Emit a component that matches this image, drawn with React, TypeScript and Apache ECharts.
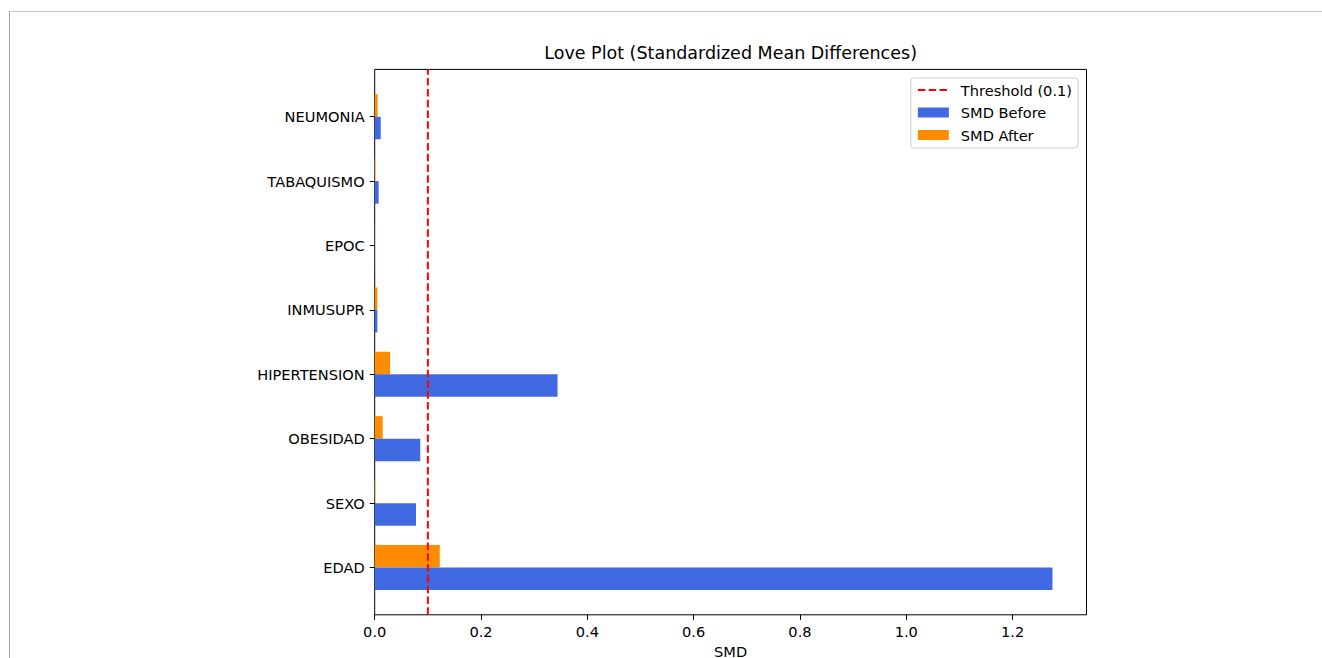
import React, { useEffect, useRef } from "react";
import * as echarts from "echarts";

const categories = ["EDAD", "SEXO", "OBESIDAD", "HIPERTENSION", "INMUSUPR", "EPOC", "TABAQUISMO", "NEUMONIA"];
const smdBefore = [1.275, 0.0777, 0.0857, 0.344, 0.005, 0.0004, 0.0075, 0.0113];
const smdAfter = [0.1224, 0.0008, 0.015, 0.029, 0.005, 0.0004, 0.0008, 0.0055];
const threshold = 0.1;
const xMax = 1.339;
const xTicks = [0, 0.2, 0.4, 0.6, 0.8, 1.0, 1.2];

const FONT = "DejaVu Sans";
const FS = 14.6;

export default function App() {
  const ref = useRef<HTMLDivElement>(null);
  useEffect(() => {
    document.body.style.margin = "0";
    document.body.style.overflow = "hidden";
    const chart = echarts.init(ref.current!, null, { renderer: "svg" });
    const plotLeft = 374.7;
    const plotWidth = 711.8;
    const band = 64.4;
    const frameTop = 69.4;
    const frameH = 545.4;
    const innerTop = frameTop + 0.235 * band;
    chart.setOption({
      animation: false,
      backgroundColor: "#ffffff",
      textStyle: { fontFamily: FONT },
      title: {
        text: "Love Plot (Standardized Mean Differences)",
        left: plotLeft + plotWidth / 2,
        textAlign: "center",
        top: 44,
        padding: 0,
        textStyle: { fontFamily: FONT, fontSize: 17.5, fontWeight: "normal", color: "#000" },
      },
      legend: {
        orient: "vertical",
        right: 1322 - 1078,
        top: 78,
        padding: [4, 6, 5, 6],
        itemGap: 6.5,
        itemWidth: 31,
        itemHeight: 10,
        borderColor: "#cccccc",
        borderWidth: 1,
        borderRadius: 3,
        backgroundColor: "rgba(255,255,255,0.8)",
        textStyle: { fontFamily: FONT, fontSize: FS, color: "#000", lineHeight: 16, padding: [0, 0, 0, 7] },
        data: [
          { name: "Threshold (0.1)", itemStyle: { opacity: 0 } },
          { name: "SMD Before", icon: "rect" },
          { name: "SMD After", icon: "rect" },
        ],
      },
      grid: [
        {
          left: plotLeft,
          width: plotWidth,
          top: innerTop,
          height: band * 8,
          containLabel: false,
          outerBoundsMode: "none",
        },
        {
          left: plotLeft,
          width: plotWidth,
          top: frameTop,
          height: frameH,
          show: true,
          borderColor: "#000",
          borderWidth: 1,
          backgroundColor: "transparent",
          containLabel: false,
          outerBoundsMode: "none",
        },
      ],
      xAxis: [
        { type: "value", gridIndex: 0, min: 0, max: xMax, show: false },
        {
          type: "value",
          gridIndex: 1,
          min: 0,
          max: xMax,
          interval: 0.2,
          position: "bottom",
          axisLine: { show: false },
          axisTick: { show: true, length: 5, lineStyle: { color: "#000", width: 1 } },
          splitLine: { show: false },
          axisLabel: {
            margin: 9,
            fontFamily: FONT,
            fontSize: FS,
            color: "#000",
            showMaxLabel: false,
            formatter: (v: number) => (xTicks.some((t) => Math.abs(t - v) < 1e-6) ? v.toFixed(1) : ""),
          },
          name: "SMD",
          nameLocation: "middle",
          nameGap: 29,
          nameTextStyle: { fontFamily: FONT, fontSize: FS, color: "#000" },
        },
      ],
      yAxis: [
        {
          type: "category",
          gridIndex: 0,
          data: categories,
          axisLine: { show: false },
          axisTick: { show: true, alignWithLabel: true, length: 5, lineStyle: { color: "#000", width: 1 } },
          axisLabel: { margin: 10, fontFamily: FONT, fontSize: FS, color: "#000" },
          splitLine: { show: false },
        },
        { type: "value", gridIndex: 1, min: 0, max: 1, show: false },
      ],
      series: [
        {
          name: "SMD After",
          type: "bar",
          xAxisIndex: 0,
          yAxisIndex: 0,
          data: smdAfter,
          barWidth: band * 0.35,
          barGap: "0%",
          itemStyle: { color: "#FF8C00" },
        },
        {
          name: "SMD Before",
          type: "bar",
          xAxisIndex: 0,
          yAxisIndex: 0,
          data: smdBefore,
          barWidth: band * 0.35,
          barGap: "0%",
          itemStyle: { color: "#4169E1" },
        },
        {
          name: "Threshold (0.1)",
          type: "line",
          xAxisIndex: 1,
          yAxisIndex: 1,
          data: [
            [threshold, 0],
            [threshold, 1],
          ],
          symbol: "none",
          itemStyle: { color: "#FF0000" },
          lineStyle: { color: "#FF0000", width: 2, type: [7.5, 3.3] },
          z: 5,
        },
      ],
    });
    return () => chart.dispose();
  }, []);
  return (
    <div style={{ position: "absolute", left: 0, top: 0, width: 1322, height: 658 }}>
      <div ref={ref} style={{ position: "absolute", left: 0, top: 0, width: 1322, height: 658 }} />
      <div
        style={{
          position: "absolute",
          left: 9,
          top: 11,
          width: 1313,
          height: 647,
          borderTop: "1px solid #c8c8c8",
          borderLeft: "1px solid #a0a0a0",
          pointerEvents: "none",
        }}
      />
    </div>
  );
}
